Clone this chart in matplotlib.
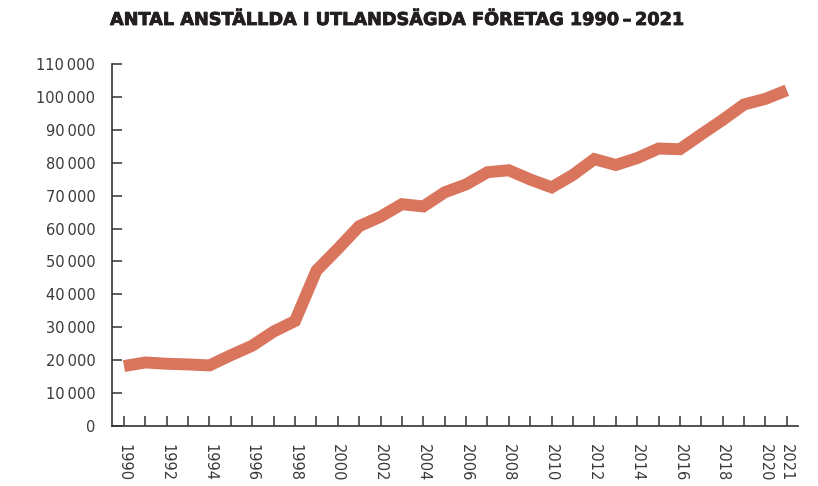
import matplotlib
matplotlib.use("Agg")
import matplotlib.pyplot as plt
import matplotlib.patheffects as pe

# Antal anställda i utlandsägda företag
years = list(range(1990, 2022))
employees = [18200, 19300, 18900, 18700, 18400, 21500, 24400, 28700, 31900, 47200,
             53800, 60700, 63600, 67400, 66700, 71000, 73400, 77100, 77700, 74900,
             72500, 76300, 81100, 79300, 81400, 84300, 84100, 88600, 93000, 97700,
             99400, 102000]

y_ticks = list(range(0, 110001, 10000))
y_labels = ["0" if v == 0 else f"{v // 1000}\u2009000" for v in y_ticks]
x_labels = [str(y) if (y % 2 == 0 or y == 2021) else "" for y in years]

title = "ANTAL ANSTÄLLDA I UTLANDSÄGDA FÖRETAG 1990\u2009\u2013\u20092021"

fig = plt.figure(figsize=(8.18, 4.86), dpi=100)
ax = fig.add_axes([0.1369, 0.1235, 0.8386, 0.7449])

ax.plot(years, employees, color="#d9745d", linewidth=8.6,
        solid_joinstyle="miter", solid_capstyle="butt")

ax.set_xlim(1989.44, 2021.52)
ax.set_ylim(0, 110000)

ax.set_yticks(y_ticks)
ax.set_yticklabels(y_labels)
ax.set_xticks(years)
ax.set_xticklabels(x_labels, rotation=270)

for s in ["top", "right"]:
    ax.spines[s].set_visible(False)
for s in ["left", "bottom"]:
    ax.spines[s].set_color("#333333")
    ax.spines[s].set_linewidth(1.2)

ax.tick_params(axis="both", direction="in", length=7, width=1.1, color="#333333",
               labelsize=10.5, labelcolor="#3a3a3a")
ax.tick_params(axis="y", pad=12)
ax.tick_params(axis="x", pad=13)

t = fig.text(110 / 818, 1 - 20 / 486, title, ha="left", va="center",
             fontsize=13, fontweight="bold", color="#231f20", family="DejaVu Sans",
             path_effects=[pe.withStroke(linewidth=0.6, foreground="#231f20")])
# fit title width to the reference
fig.canvas.draw()
w = t.get_window_extent().width
t.set_fontsize(13 * 572 / w)

fig.savefig("out.png", dpi=100)
